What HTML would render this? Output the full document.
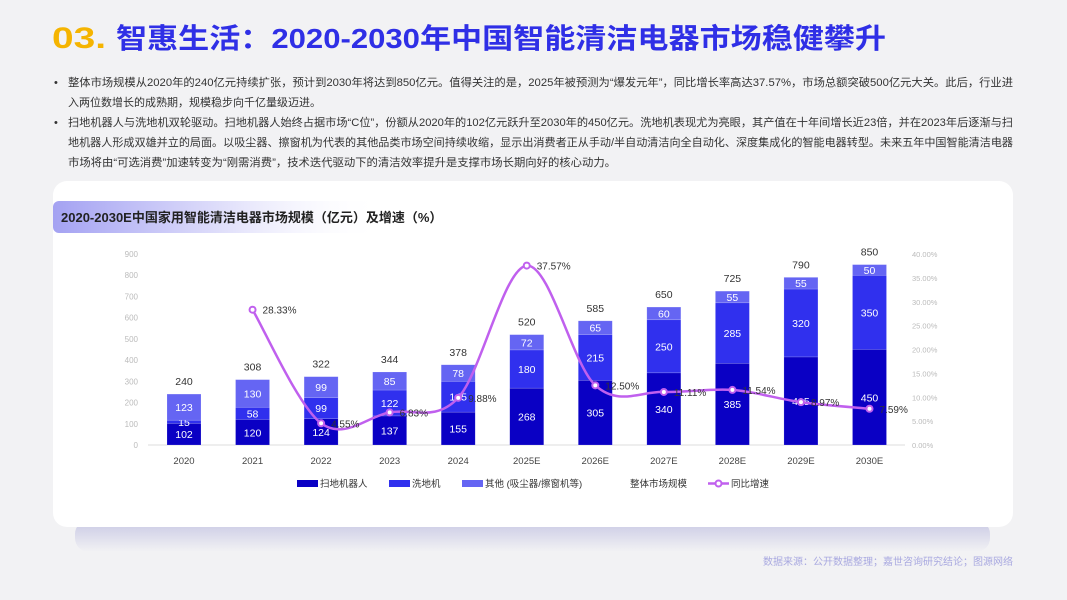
<!DOCTYPE html>
<html><head><meta charset="utf-8">
<style>
html,body{margin:0;padding:0;width:1067px;height:600px;overflow:hidden;background:#f2f2f4;font-family:"Liberation Sans","Noto Sans CJK SC",sans-serif;}
svg text{font-family:"Liberation Sans","Noto Sans CJK SC",sans-serif;}
</style></head><body>
<svg id="page" width="1067" height="600" viewBox="0 0 1067 600" xmlns="http://www.w3.org/2000/svg">
<defs>
<linearGradient id="tg" x1="0" x2="1" y1="0" y2="0"><stop offset="0" stop-color="#a4a2f2"/><stop offset="0.55" stop-color="#e4e3fb"/><stop offset="1" stop-color="#ffffff" stop-opacity="0"/></linearGradient>
<linearGradient id="sg" x1="0" x2="0" y1="0" y2="1"><stop offset="0" stop-color="#c8c8e4"/><stop offset="1" stop-color="#f2f2f4"/></linearGradient>
</defs>
<g>
<text x="52" y="48" font-size="30" font-weight="bold" fill="#f5b400" textLength="54" lengthAdjust="spacingAndGlyphs">03.</text>
<text x="116" y="48" font-size="28" font-weight="bold" fill="#2f2fe6" textLength="770" lengthAdjust="spacingAndGlyphs">智惠生活：2020-2030年中国智能清洁电器市场稳健攀升</text>
</g>
<g font-size="11" fill="#333">
<text x="54" y="86">•</text>
<text x="68" y="86" textLength="945" lengthAdjust="spacingAndGlyphs">整体市场规模从2020年的240亿元持续扩张，预计到2030年将达到850亿元。值得关注的是，2025年被预测为“爆发元年”，同比增长率高达37.57%，市场总额突破500亿元大关。此后，行业进</text>
<text x="68" y="106">入两位数增长的成熟期，规模稳步向千亿量级迈进。</text>
<text x="54" y="126">•</text>
<text x="68" y="126" textLength="945" lengthAdjust="spacingAndGlyphs">扫地机器人与洗地机双轮驱动。扫地机器人始终占据市场“C位”，份额从2020年的102亿元跃升至2030年的450亿元。洗地机表现尤为亮眼，其产值在十年间增长近23倍，并在2023年后逐渐与扫</text>
<text x="68" y="146" textLength="945" lengthAdjust="spacingAndGlyphs">地机器人形成双雄并立的局面。以吸尘器、擦窗机为代表的其他品类市场空间持续收缩，显示出消费者正从手动/半自动清洁向全自动化、深度集成化的智能电器转型。未来五年中国智能清洁电器</text>
<text x="68" y="166" textLength="548" lengthAdjust="spacingAndGlyphs">市场将由“可选消费”加速转变为“刚需消费”，技术迭代驱动下的清洁效率提升是支撑市场长期向好的核心动力。</text>
</g>
<rect x="75" y="520" width="915" height="32" rx="14" fill="url(#sg)"/>
<rect x="53" y="181" width="960" height="346" rx="14" fill="#fff"/>
<rect x="53" y="201" width="330" height="32" rx="6" fill="url(#tg)"/>
<text x="61" y="222" font-size="13" font-weight="bold" fill="#222">2020-2030E中国家用智能清洁电器市场规模（亿元）及增速（%）</text>
<g id="chart"></g>
<text x="1013" y="565" font-size="10" fill="#a9a9e0" text-anchor="end">数据来源：公开数据整理；嘉世咨询研究结论；图源网络</text>
</svg>
<script>
const categories=["2020","2021","2022","2023","2024","2025E","2026E","2027E","2028E","2029E","2030E"];
const robot=[102,120,124,137,155,268,305,340,385,415,450];
const washer=[15,58,99,122,145,180,215,250,285,320,350];
const other=[123,130,99,85,78,72,65,60,55,55,50];
const totals=[240,308,322,344,378,520,585,650,725,790,850];
const growth=[null,28.33,4.55,6.83,9.88,37.57,12.50,11.11,11.54,8.97,7.59];
const leftTicks=[0,100,200,300,400,500,600,700,800,900];
const rightTicks=[0,5,10,15,20,25,30,35,40];

const NS="http://www.w3.org/2000/svg";
const g=document.getElementById('chart');
const y0=445,yTop=254,x0=184,step=68.55,bw=34;
const yL=v=>y0-v/900*(y0-yTop);
const yR=v=>y0-v/40*(y0-yTop);
const xC=i=>x0+i*step;
function mk(tag,at,txt){const e=document.createElementNS(NS,tag);for(const k in at)e.setAttribute(k,at[k]);if(txt!==undefined)e.textContent=txt;g.appendChild(e);return e;}

leftTicks.forEach(t=>{const e=mk('text',{x:138,y:yL(t)+3,'font-size':8,fill:'#bbb','text-anchor':'end'},t);

});
rightTicks.forEach(t=>{const e=mk('text',{x:912,y:yR(t)+3,'font-size':7.5,fill:'#bbb'},t.toFixed(2)+'%');

});
const ax=mk('line',{x1:148,x2:905,y1:y0,y2:y0,stroke:'#ddd','stroke-width':1});



const series=[[robot,'#0a00c4','robot'],[washer,'#3030ee','washer'],[other,'#6565f3','other']];
categories.forEach((c,i)=>{
  let base=0;
  series.forEach(([arr,col,nm])=>{
    const v=arr[i];
    const r=mk('rect',{x:xC(i)-bw/2,y:yL(base+v),width:bw,height:yL(base)-yL(base+v),fill:col,stroke:'#fff','stroke-opacity':0.3,'stroke-width':0.5});
    
    
    const t=mk('text',{x:xC(i),y:(yL(base)+yL(base+v))/2+4,'font-size':10.5,fill:'#fff','text-anchor':'middle'},v);
    
    
    base+=v;
  });
  const tt=mk('text',{x:xC(i),y:yL(totals[i])-9,'font-size':10.5,fill:'#333','text-anchor':'middle'},totals[i]);
  
  
  const xl=mk('text',{x:xC(i),y:464,'font-size':9.5,fill:'#444','text-anchor':'middle'},c);
  
  
});

const pts=[];growth.forEach((v,i)=>{if(v!==null)pts.push([xC(i),yR(v)]);});
let d='M'+pts[0][0]+','+pts[0][1];
for(let i=0;i<pts.length-1;i++){
  const p0=pts[i-1]||pts[i],p1=pts[i],p2=pts[i+1],p3=pts[i+2]||p2;
  const k=1/6;
  d+=' C'+(p1[0]+(p2[0]-p0[0])*k)+','+(p1[1]+(p2[1]-p0[1])*k)+' '+(p2[0]-(p3[0]-p1[0])*k)+','+(p2[1]-(p3[1]-p1[1])*k)+' '+p2[0]+','+p2[1];
}
const ln=mk('path',{d:d,fill:'none',stroke:'#c060ee','stroke-width':2.5});


growth.forEach((v,i)=>{if(v===null)return;
  const c=mk('circle',{cx:xC(i),cy:yR(v),r:3,fill:'#fff',stroke:'#c060ee','stroke-width':2});
  
  
  const t=mk('text',{x:xC(i)+10,y:yR(v)+4,'font-size':10,fill:'#333'},v.toFixed(2)+'%');
  
  
});

const leg=[[297,'#0a00c4','扫地机器人'],[389,'#3030ee','洗地机'],[462,'#6565f3','其他 (吸尘器/擦窗机等)']];
leg.forEach(([x,col,lab])=>{
  const r=mk('rect',{x:x,y:480,width:21,height:7,fill:col});
  
  
  const t=mk('text',{x:x+23,y:487,'font-size':9.5,fill:'#333'},lab);
  
  
});
const lt=mk('text',{x:630,y:487,'font-size':9.5,fill:'#333'},'整体市场规模');


const ll=mk('line',{x1:708,x2:729,y1:483.5,y2:483.5,stroke:'#c060ee','stroke-width':2.5});


const lc=mk('circle',{cx:718.5,cy:483.5,r:3,fill:'#fff',stroke:'#c060ee','stroke-width':2});


const lg=mk('text',{x:731,y:487,'font-size':9.5,fill:'#333'},'同比增速');


</script>
</body></html>
